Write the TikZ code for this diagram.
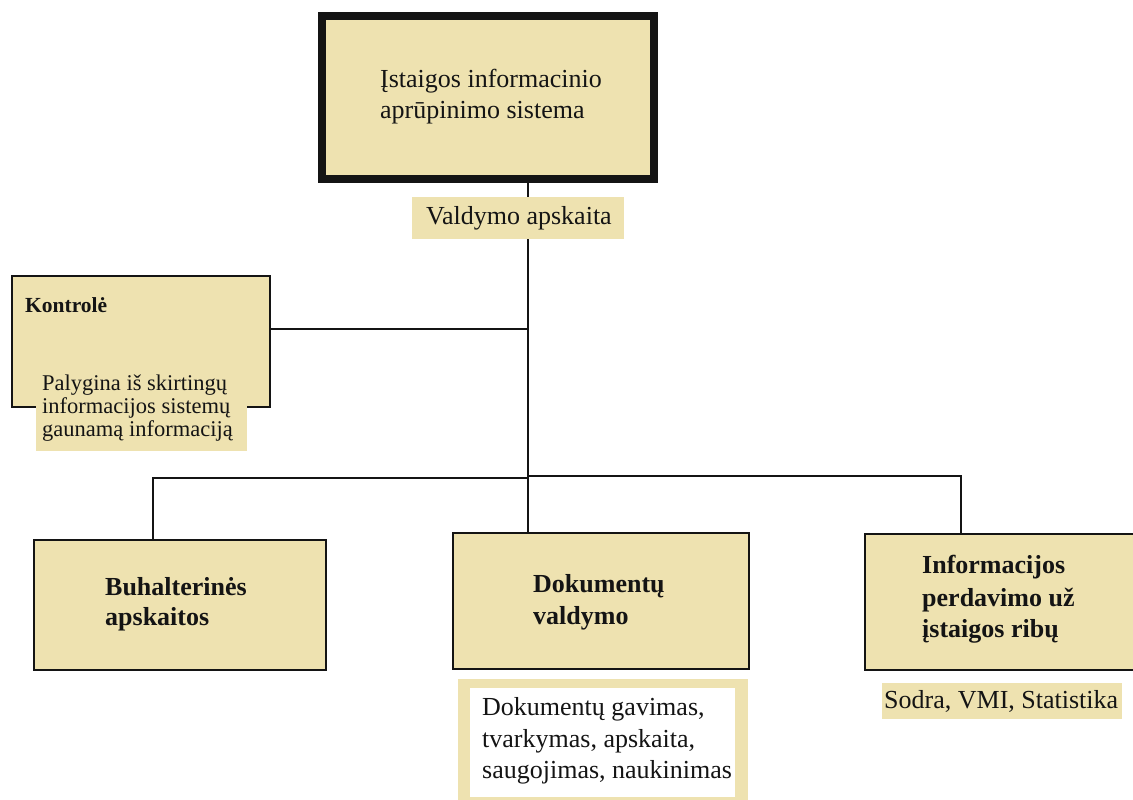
\documentclass[tikz,border=0pt]{standalone}
\usepackage{fontspec}
\setmainfont{Liberation Serif}
\definecolor{beige}{RGB}{238,226,176}
\definecolor{ink}{RGB}{20,20,20}
\tikzset{
  x=1pt, y=-1pt,
  box/.style={draw=ink, fill=beige, line width=2pt, inner sep=0pt, outer sep=0pt, anchor=north west},
  lab/.style={fill=beige, inner sep=0pt, outer sep=0pt, anchor=north west},
  whitelab/.style={fill=white, inner sep=0pt, outer sep=0pt, anchor=north west},
  big/.style={font=\fontsize{26}{30}\selectfont, text=ink, inner sep=0pt, anchor=base west},
  bigb/.style={font=\fontsize{26}{30}\selectfont\bfseries, text=ink, inner sep=0pt, anchor=base west},
  mid/.style={font=\fontsize{22.5}{24}\selectfont, text=ink, inner sep=0pt, anchor=base west},
  small/.style={font=\fontsize{21.5}{24}\selectfont\bfseries, text=ink, inner sep=0pt, anchor=base west},
  conn/.style={draw=ink, line width=1.6pt},
}
\begin{document}
\begin{tikzpicture}
\clip (0,0) rectangle (1133,800);
\fill[white] (0,0) rectangle (1133,800);
% boxes
\node[box, line width=8pt, minimum width=332pt, minimum height=163pt] (top) at (322,16) {};
\node[box, minimum width=258pt, minimum height=131pt] (kont) at (12,276) {};
\node[box, minimum width=292pt, minimum height=130pt] (buh) at (34,540) {};
\node[box, minimum width=296pt, minimum height=136pt] (dok) at (453,533) {};
\node[box, minimum width=285pt, minimum height=136pt] (inf) at (865,534) {};
% connectors
\coordinate (vx) at (528,0);
\coordinate (kj) at (528,329);
\coordinate (bl) at (153,478);
\coordinate (br) at (961,476);
\draw[conn] (vx |- top.south) -- (vx |- dok.north);
\draw[conn] (kj -| kont.east) -- (kj);
\draw[conn] (bl |- buh.north) -- (bl) -- (bl -| vx);
\draw[conn] (br |- inf.north) -- (br) -- (br -| vx);
% label boxes
\node[lab, minimum width=212pt, minimum height=42pt] (valdlab) at (412,197) {};
\node[lab, minimum width=211pt, minimum height=86pt] (palylab) at (36,365) {};
\node[lab, minimum width=240pt, minimum height=36pt] (sodlab) at (882,683) {};
\node[lab, minimum width=290pt, minimum height=121pt] (doclab) at (458,679) {};
\node[whitelab, minimum width=265pt, minimum height=109pt] (docin) at (470,688) {};
% texts
\node[big] (t1) at (380,88) {Įstaigos informacinio};
\node[big] (t2) at (380,118) {aprūpinimo sistema};
\node[big] (t3) at (426,224) {Valdymo apskaita};
\node[small] (t4) at (25,312) {Kontrolė};
\node[mid] (t5) at (42,390) {Palygina iš skirtingų};
\node[mid] (t6) at (42,413) {informacijos sistemų};
\node[mid] (t7) at (42,436) {gaunamą informaciją};
\node[bigb] (t8) at (105,595) {Buhalterinės};
\node[bigb] (t9) at (105,625) {apskaitos};
\node[bigb] (t10) at (533,592) {Dokumentų};
\node[bigb] (t11) at (533,624) {valdymo};
\node[bigb] (t12) at (922,573) {Informacijos};
\node[bigb] (t13) at (922,606) {perdavimo už};
\node[bigb] (t14) at (922,637) {įstaigos ribų};
\node[big] (t15) at (482,715) {Dokumentų gavimas,};
\node[big] (t16) at (482,747) {tvarkymas, apskaita,};
\node[big] (t17) at (482,778) {saugojimas, naukinimas};
\node[big] (t18) at (884,708) {Sodra, VMI, Statistika};
\end{tikzpicture}
\end{document}
